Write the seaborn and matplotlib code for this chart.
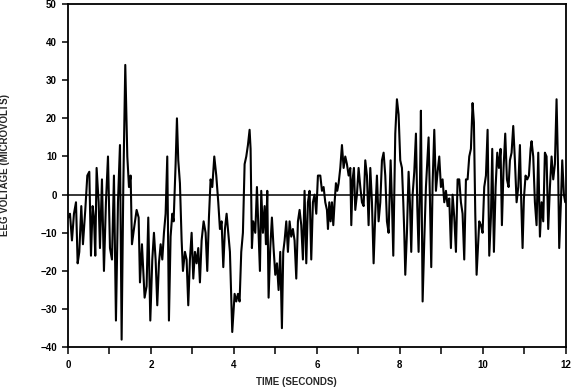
import matplotlib
matplotlib.use("Agg")
import matplotlib.pyplot as plt
import seaborn as sns
import pandas as pd
from matplotlib.ticker import MultipleLocator

# Time (seconds) and EEG voltage (microvolts)
time_s = [
    0.01, 0.048, 0.096, 0.144, 0.193, 0.233, 0.273, 0.321, 0.361, 0.417,
    0.466, 0.514, 0.554, 0.594, 0.626, 0.658, 0.690, 0.739, 0.771, 0.819,
    0.867, 0.915, 0.964, 1.012, 1.060, 1.108, 1.156, 1.205, 1.253, 1.293,
    1.333, 1.381, 1.430, 1.470, 1.510, 1.542, 1.590, 1.654, 1.703, 1.735,
    1.783, 1.847, 1.895, 1.935,
    1.984, 2.032, 2.072, 2.112, 2.152, 2.192, 2.233, 2.273, 2.313, 2.353,
    2.393, 2.433, 2.473, 2.514, 2.546, 2.594, 2.626, 2.658, 2.698, 2.739,
    2.771, 2.819, 2.859, 2.899, 2.939, 2.980, 3.020, 3.060, 3.100, 3.140,
    3.180, 3.221, 3.269, 3.317, 3.357, 3.397, 3.437, 3.478, 3.526, 3.574,
    3.622, 3.662, 3.702, 3.743, 3.783, 3.823, 3.863, 3.903, 3.959,
    4.016, 4.056, 4.096, 4.136, 4.176, 4.216, 4.257, 4.297, 4.337, 4.377,
    4.401, 4.433, 4.465, 4.514, 4.554, 4.594, 4.626, 4.658, 4.698, 4.739,
    4.771, 4.803, 4.835, 4.875, 4.915, 4.955, 4.996, 5.036, 5.076, 5.116,
    5.156, 5.188, 5.221, 5.261, 5.301, 5.341, 5.381, 5.421, 5.461, 5.502,
    5.542, 5.582, 5.622, 5.662, 5.702, 5.743, 5.783, 5.823, 5.863, 5.903,
    5.943, 5.984, 6.024,
    6.081, 6.121, 6.161, 6.201, 6.241, 6.266, 6.298, 6.330, 6.362, 6.394,
    6.426, 6.458, 6.490, 6.523, 6.563, 6.603, 6.643, 6.683, 6.723, 6.764,
    6.804, 6.828, 6.860, 6.892, 6.924, 6.964, 7.004, 7.045, 7.085, 7.125,
    7.165, 7.205, 7.245, 7.286, 7.326, 7.366, 7.406, 7.446, 7.486, 7.527,
    7.567, 7.607, 7.647, 7.687, 7.727, 7.776, 7.808, 7.840, 7.888, 7.928,
    7.968, 8.008, 8.049,
    8.081, 8.105, 8.129, 8.169, 8.209, 8.241, 8.273, 8.306, 8.346, 8.386,
    8.418, 8.450, 8.482, 8.506, 8.547, 8.587, 8.627, 8.667, 8.691, 8.723,
    8.755, 8.788, 8.828, 8.868, 8.908, 8.948, 8.988, 9.028, 9.069, 9.109,
    9.149, 9.189, 9.229, 9.269, 9.310, 9.350, 9.390, 9.430, 9.470, 9.510,
    9.550, 9.591, 9.631, 9.671, 9.711, 9.751, 9.783, 9.816, 9.848, 9.880,
    9.912, 9.952, 9.992, 10.032, 10.073,
    10.113, 10.153, 10.193, 10.225, 10.265, 10.306, 10.346, 10.386, 10.426, 10.458,
    10.498, 10.538, 10.579, 10.619, 10.651, 10.691, 10.731, 10.771, 10.812, 10.852,
    10.892, 10.924, 10.956, 10.988, 11.028, 11.069, 11.109, 11.149, 11.173, 11.213,
    11.253, 11.293, 11.334, 11.374, 11.414, 11.454, 11.494, 11.534, 11.574, 11.615,
    11.655, 11.695, 11.735, 11.775, 11.815, 11.839, 11.880, 11.912, 11.952, 11.984,
]

voltage_uv = [
    -6, -5, -12, -5, -2, -18, -15, -3, -13, -4,
    5, 6, -16, -3, -6, -16, 7, -2, -14, 4,
    -20, -2, 10, -14, -17, 5, -33, -2, 13, -38,
    2, 34, 10, 2, 5, -13, -9, -4, -6, -23,
    -13, -27, -24, -6,
    -33, -17, -10, -17, -29, -18, -13, -17, -10, -5,
    10, -33, -11, -5, -7, 8, 20, 9, 3, -12,
    -20, -15, -17, -29, -17, -10, -22, -15, -18, -14,
    -23, -12, -7, -10, -20, -6, 4, 2, 10, 5,
    -2, -9, -7, -19, -9, -5, -10, -15, -36,
    -26, -28, -26, -28, -15, -10, 8, 10, 13, 17,
    12, -14, -7, -10, 2, -10, -20, 1, -10, -3,
    -13, 1, -27, -14, -6, -14, -21, -18, -25, -15,
    -35, -15, -12, -7, -15, -7, -11, -9, -12, -22,
    -7, -4, -8, -17, 1, -18, -2, 1, -17, -2,
    0, -5, 5,
    5, 1, 2, -2, -4, -9, -2, -7, -2, -8,
    -2, 3, 1, 3, 7, 13, 7, 10, 8, 5,
    7, -8, 4, 7, -4, 0, 7, 2, -2, -3,
    9, 5, -8, 7, -2, -18, -5, 5, -7, -2,
    9, 11, 5, -7, -10, 9, -2, -16, 16, 25,
    21, 9, 7,
    -2, -10, -21, -10, 6, -2, -15, 0, 6, 16,
    -3, -15, 2, 22, -28, -12, 2, 10, 15, -1,
    -19, 3, 17, 1, 6, 10, 2, 4, -2, 1,
    -3, -1, -14, 0, -6, -15, 4, 4, -2, -5,
    -17, 4, 4, 10, 12, 24, 19, -5, -21, -14,
    -7, -8, -10, 2, 5,
    17, -16, -6, 12, -15, 2, 11, 7, 12, -8,
    7, 16, 4, 2, 9, 11, 18, 9, -2, 2,
    13, -2, -14, -1, 5, 4, 5, 12, 14, 10,
    -2, -8, 11, -11, -2, -7, 11, 10, -9, 2,
    10, 4, 8, 25, 5, -14, -2, 9, 0, -2,
]

x_ticks = [0, 2, 4, 6, 8, 10, 12]
y_ticks = [-40, -30, -20, -10, 0, 10, 20, 30, 40, 50]

df = pd.DataFrame({"time": time_s, "voltage": voltage_uv})

sns.set_style("white")
plt.rcParams["font.family"] = ["Liberation Sans", "DejaVu Sans"]
plt.rcParams["font.weight"] = "bold"

fig = plt.figure(figsize=(5.81, 3.88), dpi=100)
ax = fig.add_axes([0.117, 0.105, 0.857, 0.885])

sns.lineplot(data=df, x="time", y="voltage", ax=ax, color="black",
             linewidth=1.5, estimator=None, sort=False)
ax.axhline(0, color="black", linewidth=1.1, zorder=1)

ax.set_xlim(0, 12)
ax.set_ylim(-40, 50)
ax.set_xticks(x_ticks)
ax.set_yticks(y_ticks)
ax.set_xticklabels([str(v) for v in x_ticks], fontsize=7, fontweight="bold")
ax.set_yticklabels([str(v).replace("-", "\u2212") for v in y_ticks],
                   fontsize=7, fontweight="bold")
ax.xaxis.set_minor_locator(MultipleLocator(1))

ax.tick_params(axis="x", which="both", direction="out", length=5, width=1.1,
               pad=4, colors="black", bottom=True)
ax.tick_params(axis="y", which="major", direction="out", length=4, width=1.1,
               pad=4, colors="black", left=True)

for s in ax.spines.values():
    s.set_visible(True)
    s.set_color("black")
    s.set_linewidth(1.3)

ax.set_xlabel("TIME (SECONDS)", fontsize=7, fontweight="bold")
ax.set_ylabel("EEG VOLTAGE (MICROVOLTS)", fontsize=7, fontweight="bold")
ax.xaxis.set_label_coords(0.459, -0.086)
ax.yaxis.set_label_coords(-0.117, 0.531)

fig.savefig("out.png", dpi=100)
